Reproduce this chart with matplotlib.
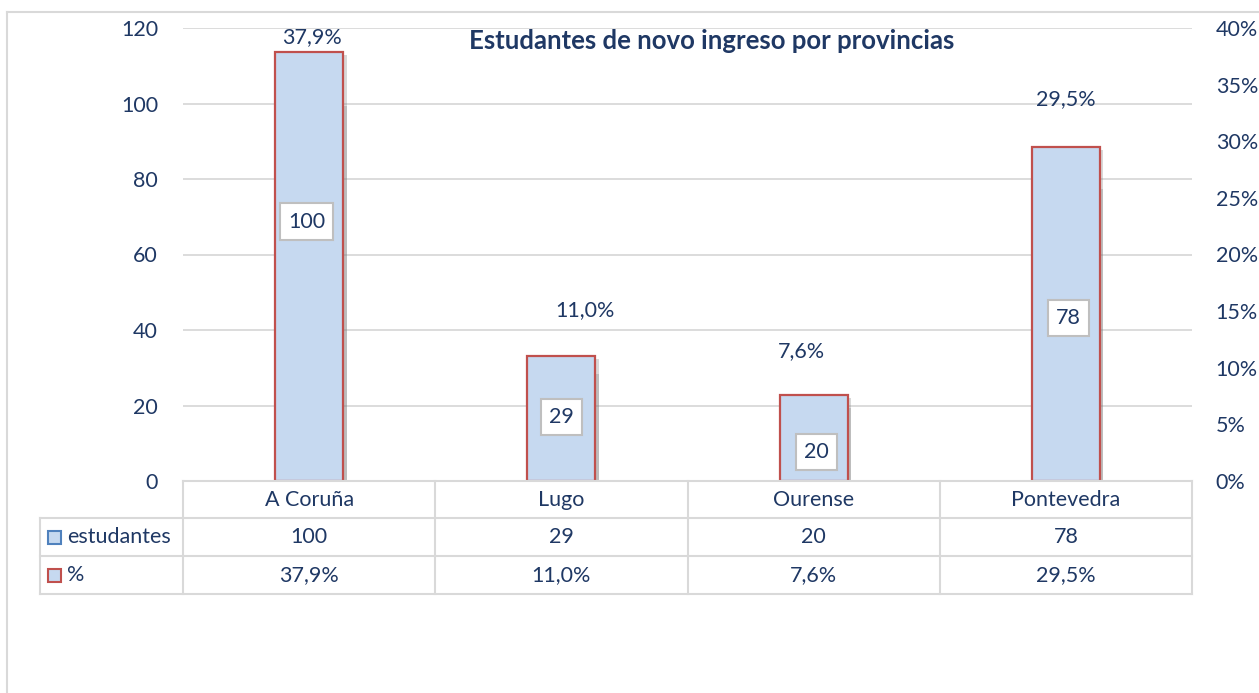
import matplotlib
matplotlib.use("Agg")
import matplotlib.pyplot as plt
import matplotlib.patheffects as pe
from matplotlib import transforms
from matplotlib.lines import Line2D
from matplotlib.patches import Rectangle
from matplotlib.ticker import FuncFormatter

# data
provincias = ["A Coruña", "Lugo", "Ourense", "Pontevedra"]
estudantes = [100, 29, 20, 78]
porcentaxe = [37.9, 11.0, 7.6, 29.5]
serie_nomes = ["estudantes", "%"]

# where the data labels sit (x offset in categories, y on the left axis)
pct_lab_dx = [0.01, 0.095, -0.05, 0.0]
pct_lab_y = [117.6, 45.2, 34.4, 101.2]
est_lab_dx = [-0.01, 0.0, 0.01, 0.01]
est_lab_y = [68.7, 16.9, 7.7, 43.1]

W, H = 1259, 693
NAVY = "#1F3864"
GRID = "#D9D9D9"
FILL = "#C6D9F0"
RED = "#C0504D"
BLUE = "#4F81BD"
FS = 15.5

plt.rcParams["font.family"] = ["Lato", "DejaVu Sans"]


def fx(px):
    return px / W


def fy(py):
    return 1 - py / H


def pct_text(v):
    return f"{v:.1f}".replace(".", ",") + "%"


fig = plt.figure(figsize=(W / 100, H / 100), dpi=100)
left, right, top, bottom = 183, 1192, 28, 481
ax = fig.add_axes([fx(left), fy(bottom), (right - left) / W, (bottom - top) / H])
ax2 = ax.twinx()

xs = list(range(len(provincias)))
ax.set_xlim(-0.5, len(provincias) - 0.5)
ax.set_ylim(0, 120)
ax2.set_ylim(0, 40)

shadow = [pe.SimplePatchShadow(offset=(2.5, -2), shadow_rgbFace="#808080", alpha=0.3), pe.Normal()]

bars1 = ax.bar(xs, estudantes, width=0.27, color=FILL, edgecolor=BLUE, linewidth=0, zorder=2)
for b in bars1:
    b.set_path_effects(shadow)
bars2 = ax2.bar(xs, porcentaxe, width=0.27, color=FILL, edgecolor=RED, linewidth=1.6, zorder=2)
for b in bars2:
    b.set_path_effects(shadow)

# axes styling
ax.set_yticks(range(0, 121, 20))
ax2.set_yticks(range(0, 41, 5))
ax2.yaxis.set_major_formatter(FuncFormatter(lambda v, p: f"{v:.0f}%"))
ax.set_xticks([])
ax.yaxis.grid(True, color=GRID, linewidth=1.3)
ax.set_axisbelow(True)
ax.tick_params(axis="y", length=0, labelsize=FS, labelcolor=NAVY, pad=18)
ax2.tick_params(axis="y", length=0, labelsize=FS, labelcolor=NAVY, pad=17)
for a in (ax, ax2):
    for s in a.spines.values():
        s.set_visible(False)

# data labels
for i in xs:
    ax2.text(i + pct_lab_dx[i], pct_lab_y[i], pct_text(porcentaxe[i]), transform=ax.transData,
             ha="center", va="center", fontsize=FS, color=NAVY, zorder=5)
    ax2.text(i + est_lab_dx[i], est_lab_y[i], str(estudantes[i]), transform=ax.transData,
             ha="center", va="center", fontsize=FS, color=NAVY, zorder=5,
             bbox=dict(boxstyle="square,pad=0.38", fc="white", ec="#BFBFBF", lw=1.5))

fig.text(fx(712), fy(41), "Estudantes de novo ingreso por provincias", ha="center", va="center",
         fontsize=18.5, fontweight="bold", color=NAVY)

# data table below the plot
tr = transforms.blended_transform_factory(ax.transData, fig.transFigure)
rows = [481, 518, 556, 594]
lc = dict(color=GRID, linewidth=1.5)
fig.add_artist(Line2D([-0.5, len(provincias) - 0.5], [fy(rows[0])] * 2, transform=tr, **lc))
for r in rows[1:]:
    fig.add_artist(Line2D([fx(40), fx(right)], [fy(r)] * 2, transform=fig.transFigure, **lc))
for k in range(len(provincias) + 1):
    fig.add_artist(Line2D([k - 0.5] * 2, [fy(rows[0]), fy(rows[-1])], transform=tr, **lc))
fig.add_artist(Line2D([fx(40)] * 2, [fy(rows[1]), fy(rows[-1])], transform=fig.transFigure, **lc))

mid = [(rows[j] + rows[j + 1]) / 2 for j in range(3)]
for i in xs:
    fig.text(i, fy(mid[0]), provincias[i], transform=tr, ha="center", va="center", fontsize=FS, color=NAVY)
    fig.text(i, fy(mid[1]), str(estudantes[i]), transform=tr, ha="center", va="center", fontsize=FS, color=NAVY)
    fig.text(i, fy(mid[2]), pct_text(porcentaxe[i]), transform=tr, ha="center", va="center", fontsize=FS, color=NAVY)

for j, (name, ec) in enumerate(zip(serie_nomes, [BLUE, RED])):
    yc = mid[j + 1]
    fig.add_artist(Rectangle((fx(48), fy(yc + 6.5)), 13 / W, 13 / H, transform=fig.transFigure,
                             facecolor=FILL, edgecolor=ec, linewidth=1.5))
    fig.text(fx(67), fy(yc), name, ha="left", va="center", fontsize=FS, color=NAVY)

# chart frame (cut at right and bottom)
fig.add_artist(Line2D([fx(7), fx(7)], [fy(12), 0], transform=fig.transFigure, color=GRID, linewidth=1.5))
fig.add_artist(Line2D([fx(7), 1], [fy(12), fy(12)], transform=fig.transFigure, color=GRID, linewidth=1.5))

fig.savefig("out.png", dpi=100)
